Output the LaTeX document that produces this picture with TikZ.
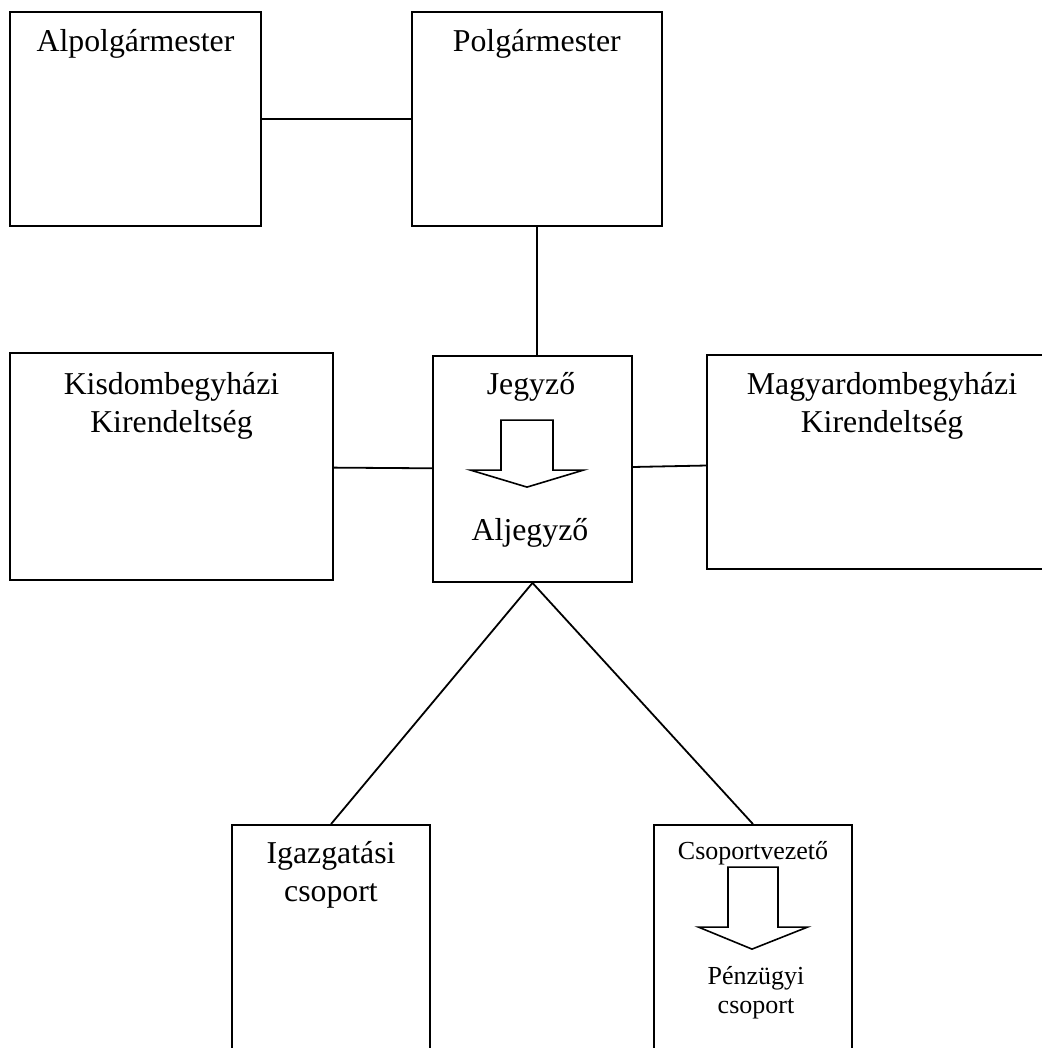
\documentclass[tikz,border=0pt]{standalone}
\usepackage{fontspec}
\setmainfont{Liberation Serif}
\usetikzlibrary{positioning}

\begin{document}
\begin{tikzpicture}[x=0.5pt,y=-0.5pt,line width=0.9pt]
  \tikzset{office/.style={draw,inner sep=0pt,minimum height=107pt},
    caption/.style={font=\fontsize{15.9}{19}\selectfont,align=center,inner sep=0pt,anchor=base},
    smallcaption/.style={caption,font=\fontsize{13}{14.5}\selectfont},
    blockarrow/.style={line width=0.8pt,line join=miter}}
  \useasboundingbox (0,0) rectangle (1042,1048);
  \clip (0,0) rectangle (1042,1048);
  % boxes
  \node[office,minimum width=125.5pt] (alpol) at (135.5,119) {};
  \node[office,minimum width=125pt,right=74.5pt of alpol] (polg) {};
  \node[office,minimum width=161.5pt,minimum height=113.5pt] (kisdomb) at (171.5,466.5) {};
  \node[office,minimum width=99.5pt,minimum height=113pt] (jegyzo) at (532.5,469) {};
  \node[office,minimum width=175pt] (magyar) at (882,462) {};
  \node[office,minimum width=99pt,minimum height=120pt] (igazg) at (331,945) {};
  \node[office,minimum width=99pt,minimum height=120pt] (penz) at (753,945) {};
  % texts (base = last line)
  \node[caption] (alpoltxt) at ([yshift=-20pt]alpol.north) {Alpolgármester};
  \node[caption] (polgtxt) at ([yshift=-20pt]polg.north) {Polgármester};
  \node[caption] (kisdombtxt) at ([yshift=-40pt]kisdomb.north) {Kisdombegyházi\\Kirendeltség};
  \node[caption] (jegyzotxt) at ([xshift=-0.75pt,yshift=-19.5pt]jegyzo.north) {Jegyző};
  \node[caption] (aljegyzotxt) at ([xshift=-1.25pt,yshift=21pt]jegyzo.south) {Aljegyző};
  \node[caption] (magyartxt) at ([yshift=-39pt]magyar.north) {Magyardombegyházi\\Kirendeltség};
  \node[caption] (igazgtxt) at ([yshift=-38.5pt]igazg.north) {Igazgatási\\csoport};
  \node[smallcaption] (vezetotxt) at ([yshift=-17.5pt]penz.north) {Csoportvezető};
  \node[smallcaption] (penztxt) at ([xshift=1.5pt,yshift=-94.5pt]penz.north) {Pénzügyi\\csoport};
  % block arrows
  \coordinate (jtip) at ([xshift=-2.75pt,yshift=-66pt]jegyzo.north);
  \draw[blockarrow] (jtip) -- ++(-56.5,-17) -- ++(30.5,0) -- ++(0,-50) -- ++(52,0)
    -- ++(0,50) -- ++(30.5,0) -- cycle;
  \coordinate (ptip) at ([xshift=-0.5pt,yshift=-62.5pt]penz.north);
  \draw[blockarrow] (ptip) -- ++(-53.5,-22) -- ++(29.5,0) -- ++(0,-60) -- ++(50,0)
    -- ++(0,60) -- ++(29.5,0) -- cycle;
  % connectors
  \draw (alpol) -- (polg);
  \draw (polg.south) -- (polg.south |- jegyzo.north);
  \draw (kisdomb) -- (jegyzo);
  \draw (jegyzo) -- (magyar);
  \draw (jegyzo.south) -- (igazg.north);
  \draw (jegyzo.south) -- (penz.north);
\end{tikzpicture}
\end{document}
